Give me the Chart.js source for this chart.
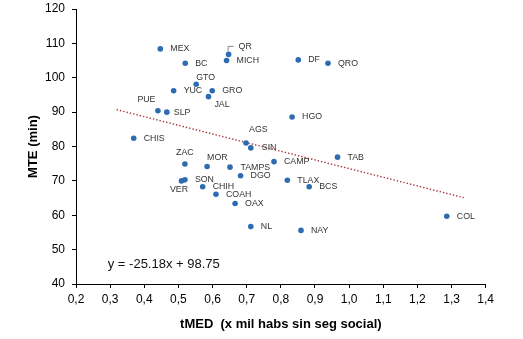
<!DOCTYPE html>
<html>
<head>
<meta charset="utf-8">
<script src="https://cdn.jsdelivr.net/npm/chart.js@4/dist/chart.umd.min.js"></script>
<style>
  html, body { margin: 0; padding: 0; background: #fff; }
  #wrap { width: 523px; height: 339px; position: relative; }
</style>
</head>
<body>
<div id="wrap"><canvas id="c" width="523" height="339"></canvas></div>
<script>
// Entidades federativas
const states = ['MEX','BC','QR','MICH','GTO','YUC','GRO','JAL','PUE','SLP','DF','QRO','HGO','CHIS',
  'AGS','SIN','ZAC','MOR','TAMPS','DGO','VER','SON','CHIH','COAH','OAX','CAMP','TAB','TLAX','BCS',
  'NL','NAY','COL'];
// tMED (x mil habs sin seg social)
const tmed = [0.447,0.520,0.647,0.641,0.552,0.486,0.599,0.588,0.440,0.466,0.851,0.938,0.833,0.369,
  0.698,0.712,0.519,0.584,0.651,0.682,0.509,0.519,0.571,0.610,0.666,0.780,0.966,0.819,0.883,
  0.712,0.859,1.286];
// MTE (min)
const mte = [108.4,104.2,106.8,105.0,98.1,96.2,96.2,94.5,90.4,90.0,105.2,104.2,88.6,82.4,
  81.0,79.6,74.9,74.2,74.0,71.5,70.0,70.3,68.3,66.1,63.4,75.6,76.9,70.2,68.3,
  56.7,55.6,59.7];

// Linear trend: y = -25.18x + 98.75
const trendSlope = -25.18;
const trendIntercept = 98.75;
const trendRange = [0.319, 1.336];

const xTicks = [0.2,0.3,0.4,0.5,0.6,0.7,0.8,0.9,1.0,1.1,1.2,1.3,1.4];
const yTicks = [40,50,60,70,80,90,100,110,120];

const points = states.map((s, i) => ({ x: tmed[i], y: mte[i], label: s }));
const trend = trendRange.map(x => ({ x: x, y: trendSlope * x + trendIntercept }));
const equationText = 'y = ' + trendSlope.toFixed(2) + 'x + ' + trendIntercept.toFixed(2);

// Label placement around each marker: [dx, dy, align]
const labelPlacement = {
  QR: [10, -8, 'left'],
  GTO: [0, -7, 'left'],
  JAL: [6, 7.5, 'left'],
  PUE: [-11.5, -11, 'center'],
  SLP: [7, 0, 'left'],
  AGS: [3, -13.5, 'left'],
  SIN: [11, 0, 'left'],
  ZAC: [0, -11, 'center'],
  MOR: [0, -9, 'left'],
  VER: [-2.5, 9, 'center'],
  TAMPS: [10.5, 0, 'left']
};

const pointLabels = {
  id: 'pointLabels',
  afterDatasetsDraw(chart) {
    const ctx = chart.ctx;
    const meta = chart.getDatasetMeta(0);
    ctx.save();
    ctx.font = '8.8px "Liberation Sans", Arial, sans-serif';
    ctx.fillStyle = '#333333';
    ctx.textBaseline = 'middle';
    meta.data.forEach((el, i) => {
      const name = states[i];
      const p = labelPlacement[name] || [10, 0, 'left'];
      ctx.textAlign = p[2];
      ctx.fillText(name, el.x + p[0], el.y + p[1]);
      if (name === 'QR') {
        ctx.strokeStyle = '#8a8a8a';
        ctx.lineWidth = 1;
        ctx.beginPath();
        ctx.moveTo(el.x - 0.5, el.y - 3);
        ctx.lineTo(el.x - 0.5, el.y - 8);
        ctx.lineTo(el.x + 5, el.y - 8);
        ctx.stroke();
      }
    });
    // regression equation
    const xs = chart.scales.x, ys = chart.scales.y;
    ctx.font = '13px "Liberation Sans", Arial, sans-serif';
    ctx.fillStyle = '#111111';
    ctx.textAlign = 'left';
    ctx.fillText(equationText, xs.getPixelForValue(0.293), ys.getPixelForValue(45.8));
    ctx.restore();
  }
};

new Chart(document.getElementById('c'), {
  type: 'scatter',
  data: {
    datasets: [
      {
        label: 'MTE',
        data: points,
        backgroundColor: '#2e6cb1',
        borderColor: '#2e6cb1',
        pointRadius: 2.8,
        pointHoverRadius: 2.8,
        borderWidth: 0
      },
      {
        label: 'Tendencia',
        data: trend,
        showLine: true,
        borderColor: '#a8353a',
        borderWidth: 1.4,
        borderDash: [1.4, 2],
        pointRadius: 0,
        fill: false
      }
    ]
  },
  options: {
    responsive: false,
    animation: false,
    devicePixelRatio: 1,
    layout: { padding: { left: 0, right: 37.3, top: 9, bottom: 0 } },
    plugins: {
      legend: { display: false },
      tooltip: { enabled: false }
    },
    scales: {
      x: {
        type: 'linear',
        min: 0.2, max: 1.4,
        afterFit(s) { s.height = 55; s.paddingLeft = 0; s.paddingRight = 0; },
        afterBuildTicks(s) { s.ticks = xTicks.map(v => ({ value: v })); },
        border: { display: true, color: '#000', width: 1 },
        grid: { drawOnChartArea: false, drawTicks: true, tickLength: 4, color: '#000' },
        ticks: {
          color: '#000',
          padding: 4,
          maxRotation: 0,
          font: { family: '"Liberation Sans", Arial, sans-serif', size: 12 },
          callback: v => v.toFixed(1).replace('.', ',')
        },
        title: {
          display: true,
          text: 'tMED  (x mil habs sin seg social)',
          color: '#000',
          font: { family: '"Liberation Sans", Arial, sans-serif', size: 13, weight: 'bold' },
          padding: { top: 0, bottom: 7.2 }
        }
      },
      y: {
        type: 'linear',
        min: 40, max: 120,
        afterFit(s) { s.width = 76; s.paddingTop = 0; s.paddingBottom = 0; },
        afterBuildTicks(s) { s.ticks = yTicks.map(v => ({ value: v })); },
        border: { display: true, color: '#000', width: 1 },
        grid: { drawOnChartArea: false, drawTicks: true, tickLength: 4, color: '#000' },
        ticks: {
          color: '#000',
          padding: 7,
          font: { family: '"Liberation Sans", Arial, sans-serif', size: 12 }
        },
        title: {
          display: true,
          text: 'MTE (min)',
          color: '#000',
          font: { family: '"Liberation Sans", Arial, sans-serif', size: 13, weight: 'bold' },
          padding: { top: 25.2, bottom: 0 }
        }
      }
    }
  },
  plugins: [pointLabels]
});
</script>
</body>
</html>
